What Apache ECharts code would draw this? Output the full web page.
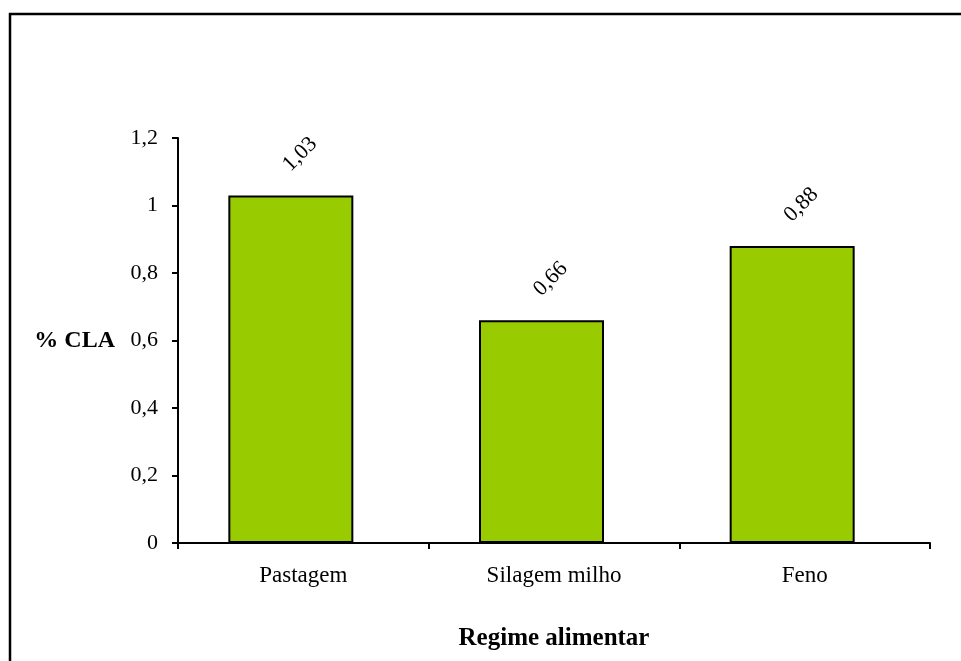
<!DOCTYPE html>
<html>
<head>
<meta charset="utf-8">
<script src="https://cdn.jsdelivr.net/npm/echarts@6/dist/echarts.min.js"></script>
<style>
html,body{margin:0;padding:0;background:#fff;}
#c{width:961px;height:661px;}
</style>
</head>
<body>
<div id="c"></div>
<script>
const categories = ['Pastagem', 'Silagem milho', 'Feno'];
const values = [1.03, 0.66, 0.88];
const valueLabels = ['1,03', '0,66', '0,88'];
const yTicks = [0, 0.2, 0.4, 0.6, 0.8, 1, 1.2];

const font = '"Liberation Serif", "Times New Roman", serif';
const chart = echarts.init(document.getElementById('c'), null, {renderer: 'canvas'});
chart.setOption({
  animation: false,
  backgroundColor: '#fff',
  graphic: [{
    type: 'rect',
    shape: {x: 10, y: 14, width: 1000, height: 700},
    style: {fill: null, stroke: '#000', lineWidth: 2.5},
    silent: true
  }],
  grid: {left: 178, right: 31, top: 138, bottom: 118},
  xAxis: {
    type: 'category',
    data: categories,
    name: 'Regime alimentar',
    nameLocation: 'middle',
    nameGap: 83,
    nameTextStyle: {fontFamily: font, fontSize: 25, fontWeight: 'bold', color: '#000'},
    axisLine: {lineStyle: {color: '#000', width: 2}},
    axisTick: {show: true, length: 6, lineStyle: {color: '#000', width: 2}},
    axisLabel: {fontFamily: font, fontSize: 23, color: '#000', margin: 21}
  },
  yAxis: {
    type: 'value',
    min: 0, max: 1.2, interval: 0.2,
    name: '% CLA',
    nameLocation: 'middle',
    nameRotate: 0,
    nameGap: 63,
    nameTextStyle: {fontFamily: font, fontSize: 24, fontWeight: 'bold', color: '#000', align: 'right', verticalAlign: 'middle'},
    splitLine: {show: false},
    axisLine: {show: true, lineStyle: {color: '#000', width: 2}},
    axisTick: {show: true, length: 6, lineStyle: {color: '#000', width: 2}},
    axisLabel: {
      fontFamily: font, fontSize: 22, color: '#000', margin: 20,
      formatter: v => String(Math.round(v * 10) / 10).replace('.', ',')
    }
  },
  series: [{
    type: 'bar',
    data: values,
    barWidth: 125,
    barGap: '-80%',
    itemStyle: {color: '#99cc00', borderColor: '#000', borderWidth: 2},
    label: {
      show: true,
      position: 'top',
      distance: 32,
      offset: [13, 0],
      rotate: 45,
      align: 'center',
      verticalAlign: 'middle',
      fontFamily: font,
      fontSize: 22,
      color: '#000',
      formatter: p => valueLabels[p.dataIndex]
    }
  }, {
    type: 'bar',
    data: values,
    barWidth: 125,
    silent: true,
    itemStyle: {color: 'rgba(0,0,0,0)', borderWidth: 0},
    label: {show: false}
  }]
});
</script>
</body>
</html>
